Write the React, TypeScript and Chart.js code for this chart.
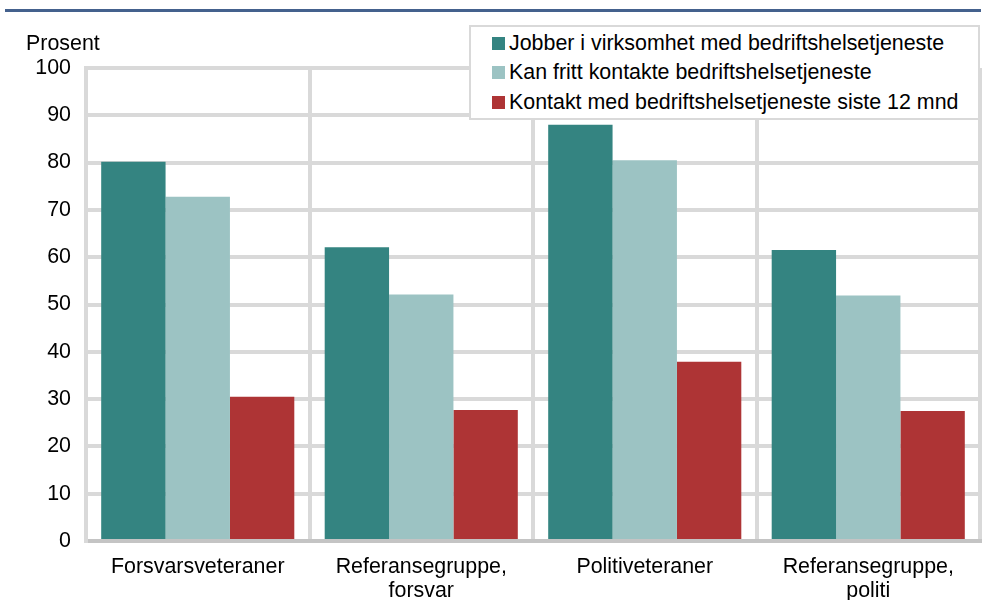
import React, { useEffect, useRef } from "react";
import { Chart, registerables } from "chart.js";

Chart.register(...registerables);

const categories: (string | string[])[] = [
  "Forsvarsveteraner",
  ["Referansegruppe,", "forsvar"],
  "Politiveteraner",
  ["Referansegruppe,", "politi"],
];
const seriesNames = [
  "Jobber i virksomhet med bedriftshelsetjeneste",
  "Kan fritt kontakte bedriftshelsetjeneste",
  "Kontakt med bedriftshelsetjeneste siste 12 mnd",
];
const jobber = [80.2, 62.1, 88.0, 61.5];
const kanFritt = [72.8, 52.1, 80.5, 51.9];
const kontakt = [30.5, 27.7, 37.9, 27.5];
const colors = ["#348481", "#9cc3c3", "#ae3435"];
const yTicks = [0, 10, 20, 30, 40, 50, 60, 70, 80, 90, 100];
const yLabel = "Prosent";

const FONT = "'Liberation Sans', Arial, sans-serif";
const FS = 21.4;

export default function App() {
  const ref = useRef<HTMLCanvasElement | null>(null);

  useEffect(() => {
    document.body.style.margin = "0";
    const ctx = ref.current!.getContext("2d")!;
    const chart = new Chart(ctx, {
      type: "bar",
      data: {
        labels: categories,
        datasets: [jobber, kanFritt, kontakt].map((d, i) => ({
          label: seriesNames[i],
          data: d,
          backgroundColor: colors[i],
          borderWidth: 0,
          categoryPercentage: 0.864,
          barPercentage: 1,
        })),
      },
      options: {
        animation: false,
        responsive: false,
        maintainAspectRatio: false,
        layout: { padding: { top: 68, right: 2, left: 0, bottom: 0 } },
        plugins: { legend: { display: false }, tooltip: { enabled: false } },
        scales: {
          x: {
            grid: {
              offset: true,
              drawTicks: false,
              lineWidth: 4,
              color: (c: any) => (c.index === 4 ? "rgba(0,0,0,0)" : "#d9d9d9"),
            },
            border: { color: "#c4c4c4", width: 4 },
            ticks: {
              color: "#000",
              font: { family: FONT, size: FS, lineHeight: 1.12 },
              padding: 14,
              maxRotation: 0,
              autoSkip: false,
            },
            afterFit: (s: any) => {
              s.height = 59;
            },
          },
          y: {
            min: 0,
            max: 100,
            afterBuildTicks: (s: any) => {
              s.ticks = yTicks.map((v) => ({ value: v }));
            },
            grid: { drawTicks: false, lineWidth: 4, color: "#d9d9d9" },
            border: { color: "#d9d9d9", width: 4 },
            ticks: {
              color: "#000",
              font: { family: FONT, size: FS },
              padding: 15,
            },
            afterFit: (s: any) => {
              s.width = 86;
            },
          },
        },
      },
    });
    return () => chart.destroy();
  }, []);

  return (
    <div style={{ position: "fixed", left: 0, top: 0, width: 982, height: 600, background: "#fff", fontFamily: FONT }}>
      <div style={{ position: "absolute", left: 5, top: 9, width: 976, height: 3, background: "#44618d" }} />
      <canvas ref={ref} width={982} height={600} style={{ position: "absolute", left: 0, top: 0, width: 982, height: 600 }} />
      <div style={{ position: "absolute", left: 26, top: 31, fontSize: FS, color: "#000", lineHeight: "24px" }}>{yLabel}</div>
      <div
        style={{
          position: "absolute",
          left: 469,
          top: 25,
          width: 507,
          height: 91,
          background: "#fff",
          border: "2px solid #d9d9d9",
        }}
      >
        {seriesNames.map((n, i) => (
          <div
            key={n}
            style={{
              position: "absolute",
              left: 21,
              top: 3 + i * 29.5,
              height: 26,
              display: "flex",
              alignItems: "center",
              whiteSpace: "nowrap",
              fontSize: FS,
              color: "#000",
            }}
          >
            <span style={{ display: "inline-block", width: 13, height: 13, background: colors[i], marginRight: 4 }} />
            {n}
          </div>
        ))}
      </div>
    </div>
  );
}
